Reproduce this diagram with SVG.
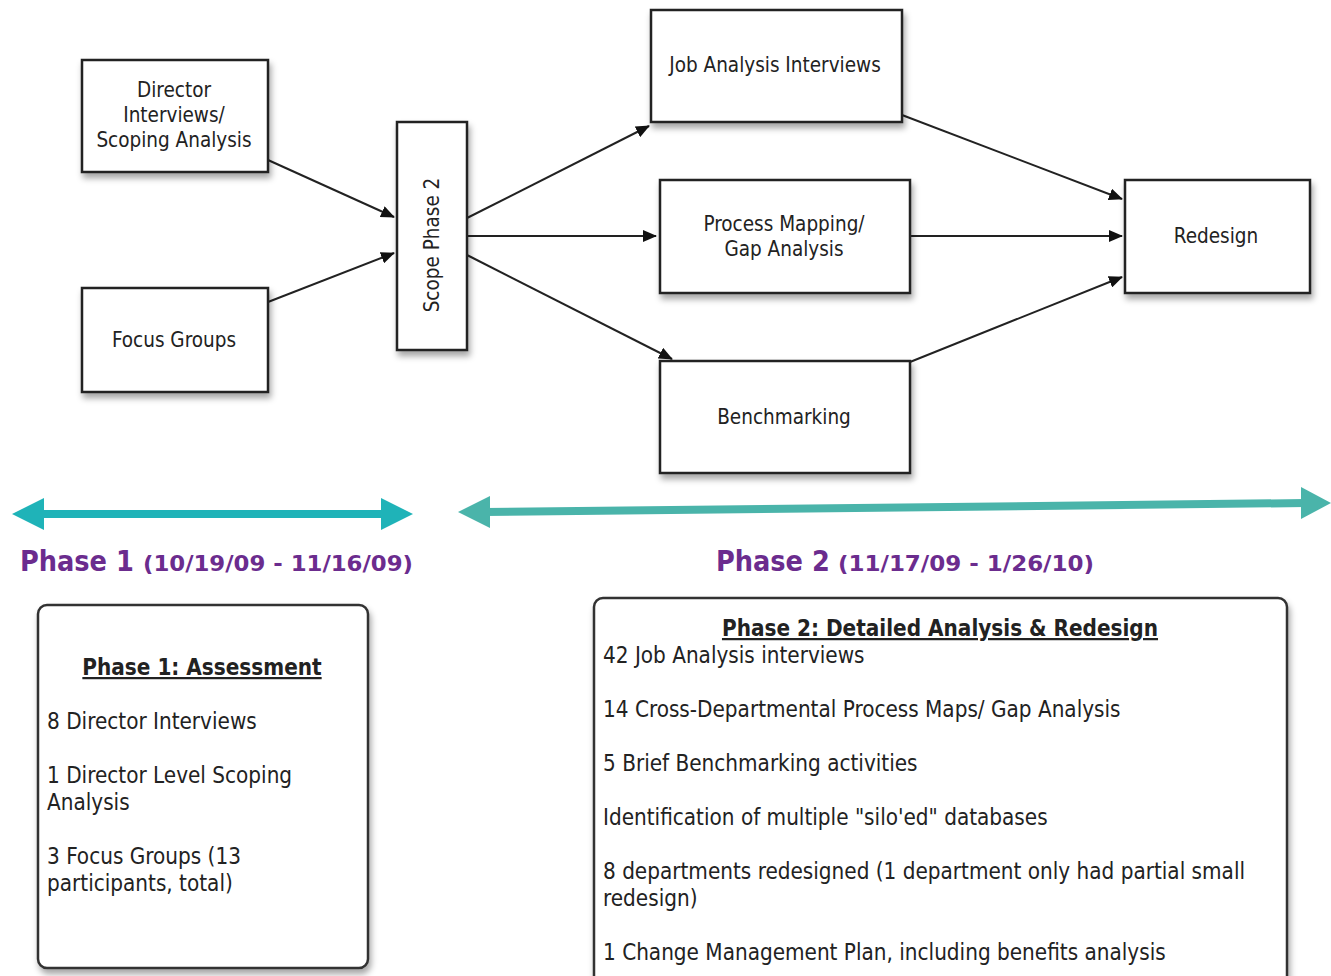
<svg xmlns="http://www.w3.org/2000/svg" width="1331" height="976" viewBox="0 0 1331 976">
<style>
.box{fill:#fff;stroke:#222;stroke-width:2.5;filter:url(#sh)}
.nt{font-family:"DejaVu Sans Condensed","DejaVu Sans",sans-serif;font-size:20.5px;fill:#222;text-anchor:middle}
.con{stroke:#222;stroke-width:2;fill:none;marker-end:url(#ah)}
.pl{font-family:"DejaVu Sans Condensed","DejaVu Sans",sans-serif;font-weight:bold;fill:#6b2c8e}
.bt{font-family:"DejaVu Sans Condensed","DejaVu Sans",sans-serif;font-size:22.3px;fill:#222}
.ttl{font-weight:bold;text-decoration:underline;text-anchor:middle}
.panel{fill:#fff;stroke:#333;stroke-width:2.5;filter:url(#sh)}
</style>
<defs>
<filter id="sh" x="-10%" y="-10%" width="125%" height="130%">
<feDropShadow dx="2" dy="5" stdDeviation="3" flood-color="#000" flood-opacity="0.35"/>
</filter>
<marker id="ah" viewBox="0 0 14 12" refX="13" refY="6" markerWidth="14" markerHeight="12" markerUnits="userSpaceOnUse" orient="auto">
<path d="M0,0 L14,6 L0,12 z" fill="#111"/>
</marker>
</defs>
<rect width="1331" height="976" fill="#fff"/>
<g id="connectors">
<line class="con" x1="268" y1="160" x2="394" y2="217"/>
<line class="con" x1="268" y1="302" x2="394" y2="253"/>
<line class="con" x1="467" y1="218" x2="649" y2="126"/>
<line class="con" x1="467" y1="236" x2="656" y2="236"/>
<line class="con" x1="467" y1="255" x2="672" y2="359"/>
<line class="con" x1="902" y1="115" x2="1122" y2="199"/>
<line class="con" x1="910" y1="236" x2="1122" y2="236"/>
<line class="con" x1="910" y1="362" x2="1122" y2="277"/>
</g>
<g id="director">
<rect class="box" x="82" y="60" width="186" height="112"/>
<text class="nt" x="174" y="97">Director</text>
<text class="nt" x="174" y="122">Interviews/</text>
<text class="nt" x="174" y="147">Scoping Analysis</text>
</g>
<g id="focus">
<rect class="box" x="82" y="288" width="186" height="104"/>
<text class="nt" x="174" y="347">Focus Groups</text>
</g>
<g id="scope">
<rect class="box" x="397" y="122" width="70" height="228"/>
<text class="nt" transform="translate(439,245) rotate(-90)" x="0" y="0">Scope Phase 2</text>
</g>
<g id="job">
<rect class="box" x="651" y="10" width="251" height="112"/>
<text class="nt" x="775" y="72">Job Analysis Interviews</text>
</g>
<g id="process">
<rect class="box" x="660" y="180" width="250" height="113"/>
<text class="nt" x="784" y="231">Process Mapping/</text>
<text class="nt" x="784" y="256">Gap Analysis</text>
</g>
<g id="bench">
<rect class="box" x="660" y="361" width="250" height="112"/>
<text class="nt" x="784" y="424">Benchmarking</text>
</g>
<g id="redesign">
<rect class="box" x="1125" y="180" width="185" height="113"/>
<text class="nt" x="1216" y="243">Redesign</text>
</g>
<g id="phase1-arrow">
<line x1="36" y1="514" x2="388" y2="514" stroke="#1fb3b8" stroke-width="8"/>
<path d="M12,514 L44,498 L44,530 z" fill="#1fb3b8"/>
<path d="M413,514 L381,498 L381,530 z" fill="#1fb3b8"/>
</g>
<g id="phase2-arrow">
<line x1="484" y1="512" x2="1305" y2="503" stroke="#4ab4aa" stroke-width="8"/>
<path d="M458,512 L490,496 L490,528 z" fill="#4ab4aa"/>
<path d="M1331,503 L1301,487 L1301,519 z" fill="#4ab4aa"/>
</g>
<g id="phase1-label">
<text class="pl" x="20" y="571" font-size="28.5">Phase 1</text>
<text class="pl" x="143" y="571" font-size="22" textLength="270" lengthAdjust="spacingAndGlyphs">(10/19/09 - 11/16/09)</text>
</g>
<g id="phase2-label">
<text class="pl" x="716" y="571" font-size="28.5">Phase 2</text>
<text class="pl" x="838" y="571" font-size="22" textLength="256" lengthAdjust="spacingAndGlyphs">(11/17/09 - 1/26/10)</text>
</g>
<g id="phase1-box">
<rect class="panel" x="38" y="605" width="330" height="363" rx="9"/>
<text class="bt ttl" x="202" y="675">Phase 1: Assessment</text>
<text class="bt" x="47" y="729">8 Director Interviews</text>
<text class="bt" x="47" y="783">1 Director Level Scoping</text>
<text class="bt" x="47" y="810">Analysis</text>
<text class="bt" x="47" y="864">3 Focus Groups (13</text>
<text class="bt" x="47" y="891">participants, total)</text>
</g>
<g id="phase2-box">
<rect class="panel" x="594" y="598" width="693" height="390" rx="9"/>
<text class="bt ttl" x="940" y="636">Phase 2: Detailed Analysis &amp; Redesign</text>
<text class="bt" x="603" y="663">42 Job Analysis interviews</text>
<text class="bt" x="603" y="717">14 Cross-Departmental Process Maps/ Gap Analysis</text>
<text class="bt" x="603" y="771">5 Brief Benchmarking activities</text>
<text class="bt" x="603" y="825">Identification of multiple "silo'ed" databases</text>
<text class="bt" x="603" y="879">8 departments redesigned (1 department only had partial small</text>
<text class="bt" x="603" y="906">redesign)</text>
<text class="bt" x="603" y="960">1 Change Management Plan, including benefits analysis</text>
</g>
</svg>
